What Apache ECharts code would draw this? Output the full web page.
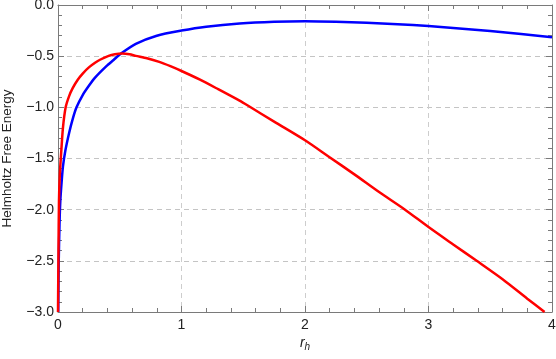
<!DOCTYPE html>
<html>
<head>
<meta charset="utf-8">
<script src="https://cdn.jsdelivr.net/npm/echarts@6/dist/echarts.min.js"></script>
<style>
html, body { margin: 0; padding: 0; background: #fff; }
#chart_main { width: 556px; height: 359px; }
</style>
</head>
<body>
<div id="chart_main"></div>
<script type="text/javascript">
// red curve
var red_x = [0, 0.004, 0.008, 0.015, 0.027, 0.04, 0.062, 0.09, 0.12, 0.16, 0.2, 0.25, 0.3, 0.34, 0.41, 0.46, 0.52, 0.58, 0.63, 0.72, 0.82, 0.91, 1.0, 1.15, 1.3, 1.47, 1.54, 1.75, 2.0, 2.19, 2.4, 2.6, 2.81, 3.0, 3.2, 3.39, 3.6, 3.8, 3.94];
var red_y = [-3.0, -2.4, -1.91, -1.65, -1.42, -1.2, -1.0, -0.89, -0.81, -0.73, -0.67, -0.61, -0.565, -0.535, -0.497, -0.481, -0.474, -0.482, -0.497, -0.52, -0.556, -0.598, -0.645, -0.73, -0.825, -0.935, -0.985, -1.14, -1.322, -1.48, -1.655, -1.828, -2.0, -2.17, -2.34, -2.5, -2.68, -2.87, -3.0];
// blue curve
var blue_x = [0.002, 0.006, 0.012, 0.019, 0.03, 0.04, 0.06, 0.09, 0.12, 0.15, 0.2, 0.25, 0.3, 0.39, 0.45, 0.51, 0.63, 0.8, 1.0, 1.2, 1.47, 1.75, 2.0, 2.25, 2.5, 2.75, 3.0, 3.25, 3.5, 3.75, 4.0];
var blue_y = [-3.0, -2.5, -2.15, -1.91, -1.72, -1.58, -1.42, -1.25, -1.11, -1.0, -0.88, -0.79, -0.71, -0.6, -0.537, -0.475, -0.38, -0.30, -0.25, -0.212, -0.18, -0.163, -0.158, -0.163, -0.174, -0.188, -0.206, -0.229, -0.255, -0.284, -0.315];
var x_ticks = [0, 1, 2, 3, 4];

function pairs(xs, ys) {
	var out = new Array();
	for (var i = 0; i < xs.length; i++) {
		out[i] = [xs[i], ys[i]];
	}
	return out;
}

var myChart = echarts.init(document.getElementById('chart_main'));
var frame_line = {show: true, onZero: false, lineStyle: {color: '#7a7a7a', width: 1}};
var tick = {show: true, inside: true, length: 6, lineStyle: {color: '#7a7a7a'}};
var minor = {show: true, splitNumber: 5, length: 4, lineStyle: {color: '#7a7a7a'}};
var option = {
	animation: false,
	textStyle: {fontFamily: 'Liberation Sans'},
	grid: {left: 58, right: 4, top: 5, bottom: 47, containLabel: false, outerBoundsMode: 'none'},
	xAxis: [{
		type: 'value', min: 0, max: 4, interval: 1, position: 'bottom',
		axisLine: frame_line, axisTick: tick, minorTick: minor,
		axisLabel: {color: '#222', fontSize: 14, margin: 6, formatter: function (v) { return x_ticks.indexOf(v) >= 0 ? String(v) : ''; }},
		splitLine: {show: true, lineStyle: {color: '#cdcdcd', type: [5, 4], width: 1}},
		name: '{i|r}{s|h}', nameLocation: 'middle', nameGap: 23, nameMoveOverlap: false,
		nameTextStyle: {verticalAlign: 'top', rich: {
			i: {fontStyle: 'italic', fontSize: 14, color: '#222'},
			s: {fontStyle: 'italic', fontSize: 10, color: '#222', verticalAlign: 'bottom', padding: [7, 0, 0, 0]}
		}}
	}, {
		type: 'value', min: 0, max: 4, interval: 1, position: 'top',
		axisLine: frame_line, axisTick: tick, minorTick: minor,
		axisLabel: {show: false},
		splitLine: {show: false}
	}],
	yAxis: [{
		type: 'value', min: -3, max: 0, interval: 0.5, position: 'left',
		axisLine: frame_line, axisTick: tick, minorTick: minor,
		axisLabel: {color: '#222', fontSize: 14, margin: 4, formatter: function (v) { return v.toFixed(1).replace('-', '\u2212'); }},
		splitLine: {show: true, lineStyle: {color: '#c4c4c4', type: [5, 4], width: 1}},
		name: 'Helmholtz Free Energy', nameLocation: 'middle', nameGap: 44, nameMoveOverlap: false,
		nameTextStyle: {color: '#222', fontSize: 13.5}
	}, {
		type: 'value', min: -3, max: 0, interval: 0.5, position: 'right',
		axisLine: frame_line, axisTick: tick, minorTick: minor,
		axisLabel: {show: false},
		splitLine: {show: false}
	}],
	series: [{
		name: 'blue', type: 'line', data: pairs(blue_x, blue_y), showSymbol: false,
		smooth: 0.25, clip: true,
		lineStyle: {color: '#0000ff', width: 2.5}, z: 3
	}, {
		name: 'red', type: 'line', data: pairs(red_x, red_y), showSymbol: false,
		smooth: 0.25, clip: true,
		lineStyle: {color: '#ff0000', width: 2.5}, z: 4
	}]
};
myChart.setOption(option);
</script>
</body>
</html>
